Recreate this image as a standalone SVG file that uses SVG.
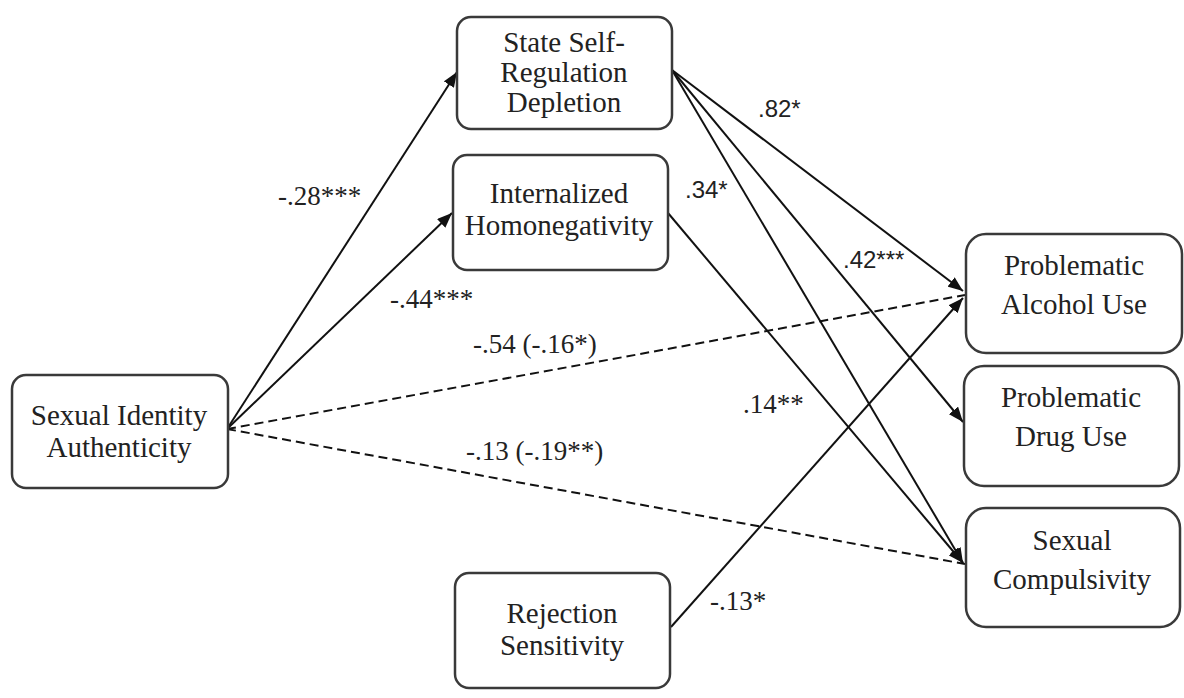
<svg xmlns="http://www.w3.org/2000/svg" width="1184" height="698" viewBox="0 0 1184 698">
<defs>
<marker id="arr" markerUnits="userSpaceOnUse" markerWidth="16" markerHeight="12" refX="15" refY="6" orient="auto">
<path d="M0,0 L15,6 L0,12 z" fill="#111"/>
</marker>
<style>
.box{fill:#fff;stroke:#3a3a3a;stroke-width:2.5}
.nt{font-family:'Liberation Serif','Tinos','DejaVu Serif','Times New Roman',serif;font-size:29px;fill:#222;text-anchor:middle}
.ln{fill:none;stroke:#111;stroke-width:2}
.ar{marker-end:url(#arr)}
.dash{fill:none;stroke:#111;stroke-width:2;stroke-dasharray:9 5}
.ls{font-family:'Liberation Serif','Tinos','DejaVu Serif','Times New Roman',serif;font-size:27px;fill:#222}
.lsa{font-family:'Liberation Sans',Arial,sans-serif;font-size:24px;fill:#222}
</style>
</defs>
<rect width="1184" height="698" fill="#fff"/>
<g id="connectors">
<line class="ln ar" x1="227" y1="429" x2="457" y2="72"/>
<line class="ln ar" x1="227" y1="429" x2="452" y2="213"/>
<line class="dash" x1="227" y1="429" x2="965" y2="295"/>
<line class="dash" x1="227" y1="429" x2="965" y2="564"/>
<line class="ln ar" x1="672" y1="70" x2="963" y2="291"/>
<line class="ln ar" x1="672" y1="70" x2="963" y2="422"/>
<line class="ln ar" x1="672" y1="70" x2="963" y2="563"/>
<line class="ln ar" x1="668" y1="213" x2="963" y2="563"/>
<line class="ln ar" x1="671" y1="627" x2="963" y2="298"/>
</g>
<g id="labels">
<text class="ls" x="278" y="205">-.28***</text>
<text class="ls" x="390" y="308">-.44***</text>
<text class="ls" x="473" y="353">-.54 (-.16*)</text>
<text class="ls" x="466" y="460">-.13 (-.19**)</text>
<text class="lsa" x="758" y="117">.82*</text>
<text class="lsa" x="685" y="198">.34*</text>
<text class="lsa" x="843" y="268">.42***</text>
<text class="ls" x="743" y="413">.14**</text>
<text class="ls" x="710" y="610">-.13*</text>
</g>
<g id="sia">
<rect class="box" x="12" y="375" width="216" height="113" rx="14"/>
<text class="nt" x="119" y="425">Sexual Identity</text>
<text class="nt" x="119" y="457">Authenticity</text>
</g>
<g id="ssrd">
<rect class="box" x="457" y="17" width="215" height="112" rx="14"/>
<text class="nt" x="564" y="52">State Self-</text>
<text class="nt" x="564" y="82">Regulation</text>
<text class="nt" x="564" y="112">Depletion</text>
</g>
<g id="ih">
<rect class="box" x="453" y="155" width="215" height="115" rx="14"/>
<text class="nt" x="559" y="203">Internalized</text>
<text class="nt" x="559" y="235">Homonegativity</text>
</g>
<g id="rs">
<rect class="box" x="455" y="573" width="215" height="115" rx="14"/>
<text class="nt" x="562" y="623">Rejection</text>
<text class="nt" x="562" y="655">Sensitivity</text>
</g>
<g id="pau">
<rect class="box" x="966" y="234" width="216" height="119" rx="20"/>
<text class="nt" x="1074" y="275">Problematic</text>
<text class="nt" x="1074" y="314">Alcohol Use</text>
</g>
<g id="pdu">
<rect class="box" x="964" y="366" width="215" height="120" rx="20"/>
<text class="nt" x="1071" y="407">Problematic</text>
<text class="nt" x="1071" y="446">Drug Use</text>
</g>
<g id="sc">
<rect class="box" x="966" y="508" width="214" height="119" rx="20"/>
<text class="nt" x="1072" y="550">Sexual</text>
<text class="nt" x="1072" y="589">Compulsivity</text>
</g>
</svg>
